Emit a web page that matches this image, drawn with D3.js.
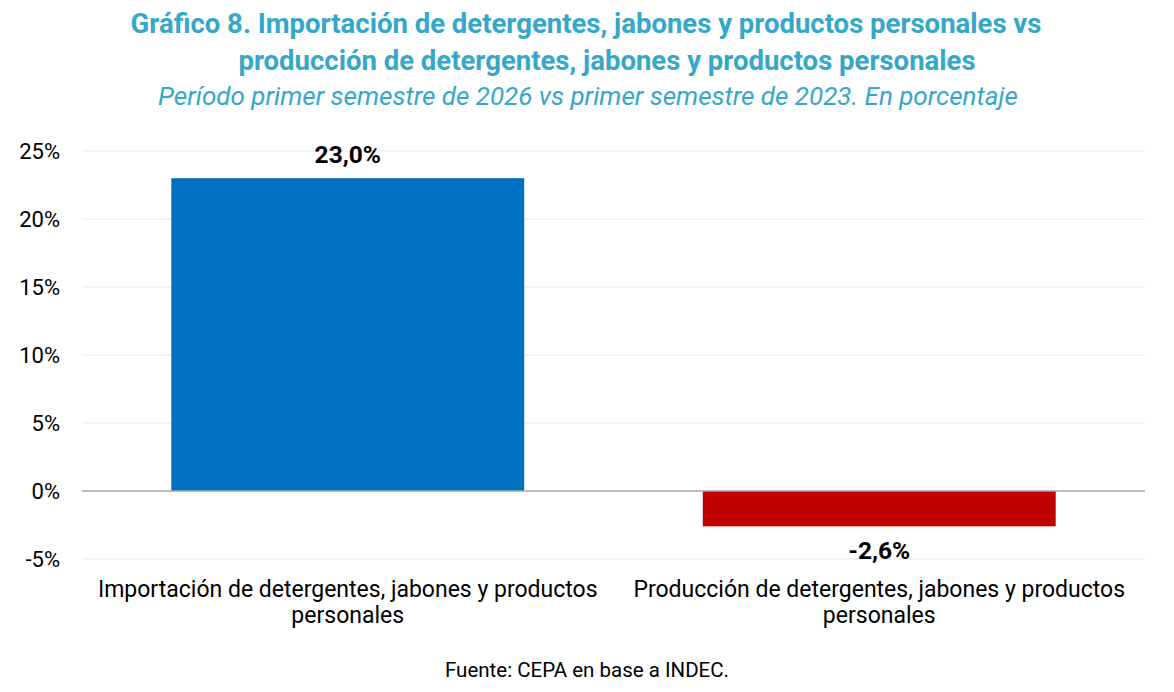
<!DOCTYPE html>
<html>
<head>
<meta charset="utf-8">
<script src="https://cdn.jsdelivr.net/npm/d3@7"></script>
<style>
  body { margin: 0; background: #fff; }
  svg { font-family: Roboto, "Noto Sans", sans-serif; }
</style>
</head>
<body>
<div id="chart"></div>
<script>
// data
var categories = [
  "Importación de detergentes, jabones y productos personales",
  "Producción de detergentes, jabones y productos personales"
];
var values = [23.0, -2.6];
var barColors = ["#0070C0", "#C00000"];
var tickValues = [-5, 0, 5, 10, 15, 20, 25];

var titleLines = [
  "Gráfico 8. Importación de detergentes, jabones y productos personales vs",
  "producción de detergentes, jabones y productos personales"
];
var subtitle = "Período primer semestre de 2026 vs primer semestre de 2023. En porcentaje";
var source = "Fuente: CEPA en base a INDEC.";

var width = 1174, height = 692;
var margins = {top: 151, bottom: 133, left: 82, right: 29};

var svg = d3.select("#chart").append("svg")
  .attr("width", width)
  .attr("height", height);

var x = d3.scaleBand()
  .domain(categories)
  .range([margins.left, width - margins.right])
  .paddingInner(0.336)
  .paddingOuter(0.168);

var y = d3.scaleLinear()
  .domain([-5, 25])
  .range([height - margins.bottom, margins.top]);

function fmt(v) {
  return v.toFixed(1).replace(".", ",") + "%";
}

// gridlines
svg.append("g")
  .selectAll("line")
  .data(tickValues.filter(function(d) { return d !== 0; }))
  .enter().append("line")
  .attr("x1", margins.left)
  .attr("x2", width - margins.right)
  .attr("y1", function(d) { return y(d); })
  .attr("y2", function(d) { return y(d); })
  .attr("stroke", "#f0f0f0")
  .attr("stroke-width", 1.5);

// y axis labels
var yAxis = svg.append("g")
  .attr("transform", "translate(" + (margins.left - 22) + ",0)")
  .call(d3.axisLeft(y).tickValues(tickValues).tickSize(0).tickFormat(function(d) { return d + "%"; }));
yAxis.select(".domain").remove();
yAxis.selectAll("text")
  .attr("x", 0)
  .attr("dy", "0.36em")
  .attr("fill", "#000")
  .style("font-size", "22px")
  .style("font-family", "Roboto");

// bars
svg.append("g")
  .selectAll("rect")
  .data(values)
  .enter().append("rect")
  .attr("x", function(d, i) { return x(categories[i]); })
  .attr("width", x.bandwidth())
  .attr("y", function(d) { return y(Math.max(0, d)); })
  .attr("height", function(d) { return Math.abs(y(d) - y(0)); })
  .attr("fill", function(d, i) { return barColors[i]; });

// zero line
svg.append("line")
  .attr("x1", margins.left)
  .attr("x2", width - margins.right)
  .attr("y1", y(0))
  .attr("y2", y(0))
  .attr("stroke", "#a6a6a6")
  .attr("stroke-width", 1.5);

// value labels
svg.append("g")
  .selectAll("text")
  .data(values)
  .enter().append("text")
  .attr("x", function(d, i) { return x(categories[i]) + x.bandwidth() / 2; })
  .attr("y", function(d) { return d >= 0 ? y(d) - 15 : y(d) + 33; })
  .attr("text-anchor", "middle")
  .style("font-size", "24.5px")
  .style("font-weight", "bold")
  .attr("fill", "#000")
  .text(fmt);

// category labels, wrapped
var catG = svg.append("g");
categories.forEach(function(name, i) {
  var cx = x(name) + x.bandwidth() / 2;
  var words = name.split(" ");
  var lines = [], line = [];
  var t = catG.append("text")
    .attr("x", cx)
    .attr("text-anchor", "middle")
    .style("font-size", "23px");
  words.forEach(function(w) {
    line.push(w);
    t.text(line.join(" "));
    if (t.node().getComputedTextLength() > x.step() - 10 && line.length > 1) {
      line.pop();
      lines.push(line.join(" "));
      line = [w];
    }
  });
  lines.push(line.join(" "));
  t.remove();
  lines.forEach(function(l, j) {
    catG.append("text")
      .attr("x", cx)
      .attr("y", 597 + j * 26)
      .attr("text-anchor", "middle")
      .style("font-size", "23px")
      .attr("fill", "#000")
      .text(l);
  });
});

// title
var titleX = [586, 607];
svg.append("g")
  .selectAll("text")
  .data(titleLines)
  .enter().append("text")
  .attr("x", function(d, i) { return titleX[i]; })
  .attr("y", function(d, i) { return 33 + i * 37; })
  .attr("text-anchor", "middle")
  .style("font-size", "27.5px")
  .style("font-weight", "bold")
  .attr("fill", "#35A7C8")
  .text(function(d) { return d; });

svg.append("text")
  .attr("x", 588)
  .attr("y", 105)
  .attr("text-anchor", "middle")
  .style("font-size", "26px")
  .style("font-style", "italic")
  .attr("fill", "#35A7C8")
  .text(subtitle);

// source
svg.append("text")
  .attr("x", 587)
  .attr("y", 677)
  .attr("text-anchor", "middle")
  .style("font-size", "20.5px")
  .attr("fill", "#000")
  .text(source);
</script>
</body>
</html>
